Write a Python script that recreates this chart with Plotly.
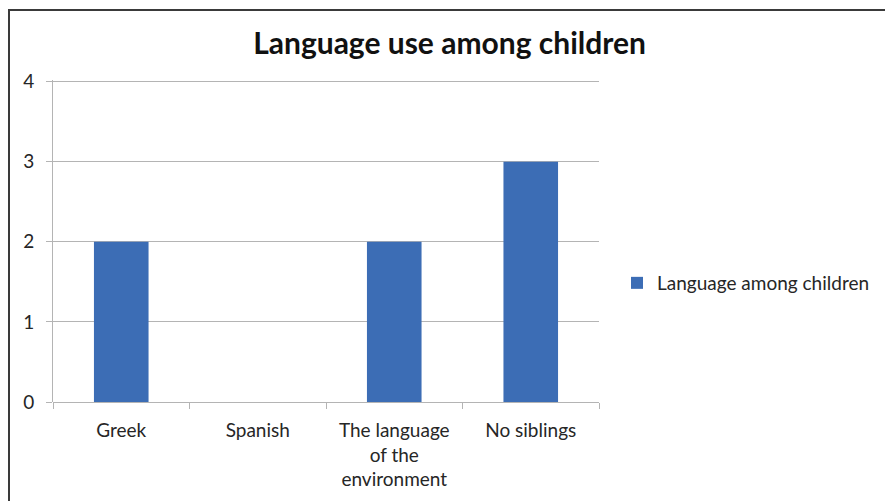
import plotly.graph_objects as go

categories = ["Greek", "Spanish", "The language<br>of the<br>environment", "No siblings"]
values = [2, 0, 2, 3]
series_name = "Language among children"
y_ticks = [0, 1, 2, 3, 4]

W, H = 885, 501
L, R, T, B = 53, 286, 80, 99
pw, ph = W - L - R, H - T - B

FONT = "Lato, Carlito, Calibri, sans-serif"
GRID = "#b4b4b4"
TXT = "#262626"
FS = 19

fig = go.Figure()
fig.add_trace(go.Bar(
    x=categories,
    y=values,
    name=series_name,
    marker=dict(color="#3c6db5", line=dict(width=0)),
    showlegend=True,
))

fig.update_layout(
    width=W,
    height=H,
    margin=dict(l=L, r=R, t=T, b=B, autoexpand=False),
    paper_bgcolor="white",
    plot_bgcolor="white",
    bargap=0.6,
    font=dict(family=FONT, size=FS, color=TXT),
    title=dict(
        text="<b>Language use among children</b>",
        x=0.508, xanchor="center",
        y=1 - 43 / H, yanchor="middle",
        font=dict(family=FONT, size=30, color="#111111"),
    ),
    xaxis=dict(
        type="category",
        showgrid=False,
        showline=False,
        ticks="outside",
        tickson="boundaries",
        ticklen=6,
        tickcolor=GRID,
        tickfont=dict(size=FS, color=TXT),
        ticklabelstandoff=15,
        fixedrange=True,
    ),
    yaxis=dict(
        # small headroom so the top gridline at 4 is drawn
        range=[0, 4.02],
        tickvals=y_ticks,
        showgrid=True,
        gridcolor=GRID,
        gridwidth=1,
        showline=True,
        linecolor=GRID,
        linewidth=1,
        ticks="outside",
        ticklen=6,
        tickcolor=GRID,
        zeroline=True,
        zerolinecolor=GRID,
        zerolinewidth=1,
        tickfont=dict(size=FS, color=TXT),
        ticklabelstandoff=8,
        fixedrange=True,
    ),
    legend=dict(
        x=(617 - L) / pw,
        y=(H - B - 283) / ph,
        xanchor="left",
        yanchor="middle",
        font=dict(size=FS, color=TXT),
        bgcolor="rgba(0,0,0,0)",
        itemwidth=30,
    ),
)

# chart frame
fig.add_shape(
    type="rect",
    xref="paper", yref="paper",
    x0=(9 - L) / pw, x1=(W + 10 - L) / pw,
    y0=(H - B - (H + 10)) / ph, y1=(H - B - 10) / ph,
    line=dict(color="#3a3a3a", width=2),
    fillcolor="rgba(0,0,0,0)",
    layer="below",
)

fig.write_html("out.html")
